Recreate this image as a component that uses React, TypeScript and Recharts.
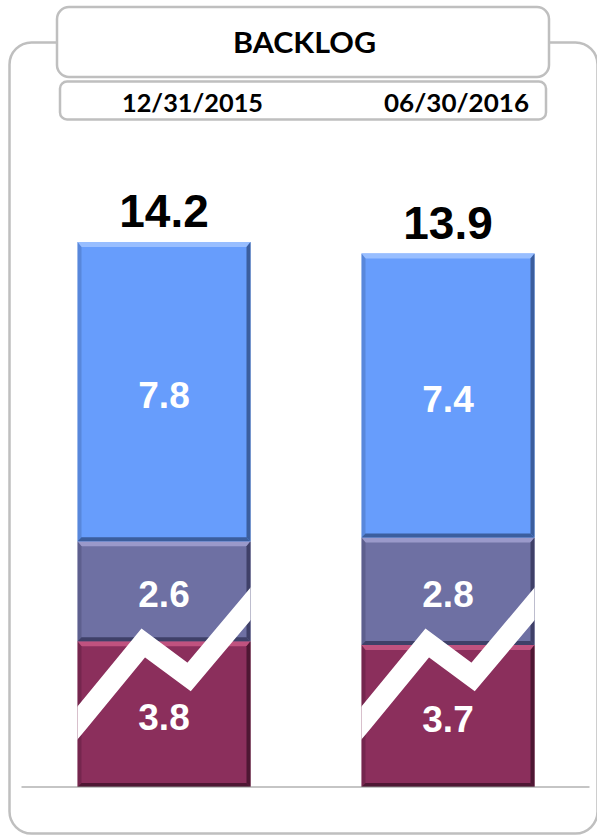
import { BarChart, Bar, XAxis, YAxis, LabelList } from 'recharts';

const periods = ['12/31/2015', '06/30/2016'];
const bottomValues = [3.8, 3.7];
const middleValues = [2.6, 2.8];
const topValues = [7.8, 7.4];
const totals = [14.2, 13.9];

const data = periods.map((period, i) => ({
  period,
  bottom: bottomValues[i],
  middle: middleValues[i],
  top: topValues[i],
  total: totals[i],
}));

const NUM_FONT = '"Liberation Sans", Arial, sans-serif';
const HEAD_FONT = 'Lato, "Open Sans", sans-serif';
const FRAME = '#bfbfbf';

// break marker offsets, px above the baseline, x as share of bar width
const BREAK = [
  [-0.1, -43],
  [0, -64],
  [0.38, -144],
  [0.645, -110],
  [1, -183],
  [1.1, -204],
];

const bevel = (fill: string, light: string, dark: string, withBreak = false) =>
  (props: any) => {
    const { x, y, width: w, height: h, index, payload } = props;
    if (!w || !h) return null;
    const b = 4;
    const t = 5;
    let zig = null;
    if (withBreak && payload) {
      const perUnit = h / payload.middle;
      const base = y + h + payload.bottom * perUnit;
      const pts = BREAK.map(([fx, dy]) => `${x + fx * w},${base + dy}`).join(' ');
      zig = (
        <g>
          <defs>
            <clipPath id={`brk-${index}`}>
              <rect x={x} y={base - 260} width={w} height={260} />
            </clipPath>
          </defs>
          <polyline
            points={pts}
            fill="none"
            stroke="#ffffff"
            strokeWidth={21}
            strokeLinejoin="miter"
            clipPath={`url(#brk-${index})`}
          />
        </g>
      );
    }
    return (
      <g>
        <rect x={x} y={y} width={w} height={h} fill={fill} />
        <polygon
          points={`${x},${y} ${x + w},${y} ${x + w - b},${y + t} ${x + b},${y + t}`}
          fill={light}
        />
        <polygon
          points={`${x},${y} ${x + b},${y + t} ${x + b},${y + h - b} ${x},${y + h}`}
          fill={dark}
          opacity={0.35}
        />
        <polygon
          points={`${x + w},${y} ${x + w},${y + h} ${x + w - b},${y + h - b} ${x + w - b},${y + t}`}
          fill={dark}
        />
        <polygon
          points={`${x},${y + h} ${x + w},${y + h} ${x + w - b},${y + h - b} ${x + b},${y + h - b}`}
          fill={dark}
        />
        {zig}
      </g>
    );
  };

const innerLabel = (props: any) => {
  const { x, y, width, height, value } = props;
  return (
    <text
      x={x + width / 2}
      y={y + height / 2 + 16}
      textAnchor="middle"
      fill="#ffffff"
      fontFamily={NUM_FONT}
      fontWeight={700}
      fontSize={37}
    >
      {Number(value).toFixed(1)}
    </text>
  );
};

const totalLabel = (props: any) => {
  const { x, y, width, value } = props;
  return (
    <text
      x={x + width / 2}
      y={y - 15}
      textAnchor="middle"
      fill="#000000"
      fontFamily={NUM_FONT}
      fontWeight={700}
      fontSize={46}
    >
      {Number(value).toFixed(1)}
    </text>
  );
};

const Frames = () => (
  <svg
    width={597}
    height={836}
    style={{ position: 'absolute', left: 0, top: 0 }}
  >
    <rect x={9.5} y={42.5} width={588} height={791} rx={22} fill="none" stroke={FRAME} strokeWidth={2.5} />
    <rect x={57} y={7} width={492} height={70} rx={12} fill="#ffffff" stroke={FRAME} strokeWidth={2.5} />
    <rect x={60} y={81.5} width={486} height={38} rx={7} fill="#ffffff" stroke={FRAME} strokeWidth={2.5} />
    <text
      x={233}
      y={53}
      textLength={143}
      lengthAdjust="spacingAndGlyphs"
      fontFamily={HEAD_FONT}
      fontWeight={700}
      fontSize={29}
      fill="#000000"
    >
      BACKLOG
    </text>
    <text
      x={122}
      y={112}
      textLength={141}
      lengthAdjust="spacingAndGlyphs"
      fontFamily={HEAD_FONT}
      fontWeight={700}
      fontSize={25}
      fill="#000000"
    >
      {periods[0]}
    </text>
    <text
      x={384}
      y={112}
      textLength={145}
      lengthAdjust="spacingAndGlyphs"
      fontFamily={HEAD_FONT}
      fontWeight={700}
      fontSize={25}
      fill="#000000"
    >
      {periods[1]}
    </text>
  </svg>
);

export default function App() {
  return (
    <div
      style={{
        position: 'absolute',
        left: 0,
        top: 0,
        width: 597,
        height: 836,
        background: '#ffffff',
        overflow: 'hidden',
      }}
    >
      <Frames />
      <div style={{ position: 'absolute', left: 0, top: 0 }}>
        <BarChart
          width={597}
          height={836}
          data={data}
          margin={{ top: 242, right: 7.5, left: 21.5, bottom: 48 }}
        >
          <XAxis
            dataKey="period"
            tick={false}
            tickLine={false}
            height={1}
            axisLine={{ stroke: '#8c8c8c', strokeWidth: 1.2 }}
          />
          <YAxis hide domain={[0, 14.2]} />
          <Bar
            dataKey="bottom"
            stackId="a"
            barSize={173}
            isAnimationActive={false}
            shape={bevel('#8B2F5C', '#C0527F', '#4E1733')}
          >
            <LabelList dataKey="bottom" content={innerLabel} />
          </Bar>
          <Bar
            dataKey="middle"
            stackId="a"
            barSize={173}
            isAnimationActive={false}
            shape={bevel('#6E70A3', '#9A99CA', '#3F4068', true)}
          >
            <LabelList dataKey="middle" content={innerLabel} />
          </Bar>
          <Bar
            dataKey="top"
            stackId="a"
            barSize={173}
            isAnimationActive={false}
            shape={bevel('#679DFC', '#98BEFF', '#3B5E9E')}
          >
            <LabelList dataKey="top" content={innerLabel} />
            <LabelList dataKey="total" content={totalLabel} />
          </Bar>
        </BarChart>
      </div>
    </div>
  );
}
